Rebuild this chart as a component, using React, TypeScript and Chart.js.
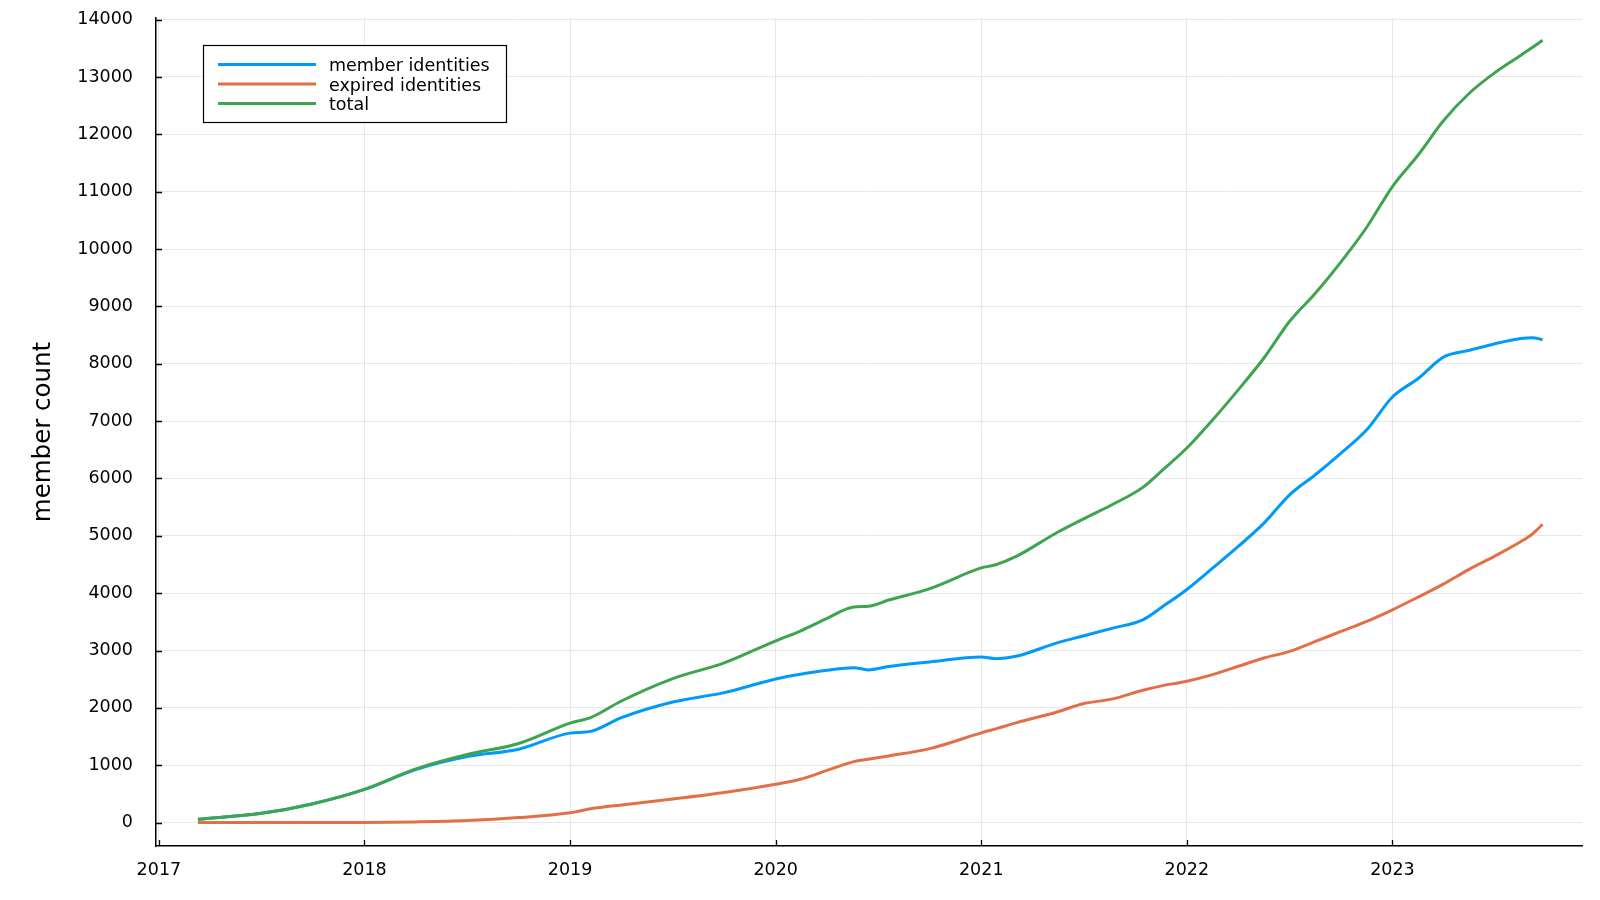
import React, { useEffect, useRef } from "react";
import { Chart, registerables } from "chart.js";

Chart.register(...registerables);

// ---- data ----
const years = [
  2017.19, 2017.5, 2017.75, 2018.0, 2018.25, 2018.5, 2018.75, 2019.0, 2019.1, 2019.25,
  2019.5, 2019.75, 2020.0, 2020.12, 2020.25, 2020.38, 2020.45, 2020.55, 2020.75, 2021.0,
  2021.07, 2021.17, 2021.365, 2021.5, 2021.64, 2021.786, 2021.883, 2022.0, 2022.125, 2022.25,
  2022.375, 2022.5, 2022.625, 2022.75, 2022.875, 2023.0, 2023.125, 2023.25, 2023.375, 2023.5,
  2023.625, 2023.68, 2023.73,
];

const memberIdentities = [
  60, 163, 330, 578, 925, 1150, 1280, 1560, 1590, 1830,
  2103, 2266, 2505, 2586, 2655, 2700, 2662, 2720, 2800, 2887,
  2858, 2899, 3130, 3258, 3391, 3536, 3768, 4065, 4436, 4814,
  5221, 5715, 6064, 6442, 6849, 7420, 7742, 8120, 8235, 8350,
  8440, 8455, 8420,
];

const expiredIdentities = [
  0, 0, 0, 2, 12, 35, 87, 172, 240, 308,
  410, 523, 668, 755, 910, 1063, 1104, 1162, 1290, 1565,
  1635, 1739, 1925, 2075, 2157, 2307, 2388, 2464, 2580, 2725,
  2870, 2986, 3159, 3333, 3507, 3710, 3932, 4163, 4420, 4650,
  4900, 5030, 5200,
];

const totalIdentities = [
  60, 163, 330, 580, 937, 1188, 1380, 1735, 1830, 2120,
  2510, 2785, 3170, 3340, 3560, 3760, 3770, 3880, 4080, 4440,
  4495, 4640, 5050, 5300, 5550, 5845, 6150, 6530, 7020, 7545,
  8100, 8740, 9230, 9777, 10380, 11090, 11640, 12245, 12720, 13080,
  13380, 13513, 13640,
];

const seriesLabels = ["member identities", "expired identities", "total"];
const seriesColors = ["#009AFA", "#E36F47", "#3EA44E"];
const xTickYears = [2017, 2018, 2019, 2020, 2021, 2022, 2023];
const yTickValues = [0, 1000, 2000, 3000, 4000, 5000, 6000, 7000, 8000, 9000, 10000, 11000, 12000, 13000, 14000];
const yAxisTitle = "member count";

const FONT = "'DejaVu Sans', sans-serif";
const FONT_SIZE = 17.5;

const inwardTicks = {
  id: "inwardTicks",
  afterDraw(chart: any) {
    const { ctx, chartArea, scales } = chart;
    const xs = scales.x;
    const ys = scales.y;
    ctx.save();
    ctx.strokeStyle = "#000";
    ctx.lineWidth = 1.3;
    ctx.beginPath();
    for (const v of yTickValues) {
      const py = Math.round(ys.getPixelForValue(v)) + 0.5;
      ctx.moveTo(chartArea.left, py);
      ctx.lineTo(chartArea.left + 6, py);
    }
    for (const v of xTickYears) {
      const px = Math.round(xs.getPixelForValue(v)) + 0.5;
      ctx.moveTo(px, chartArea.bottom);
      ctx.lineTo(px, chartArea.bottom - 6);
    }
    ctx.stroke();
    ctx.restore();
  },
};

const legendBox = {
  id: "legendBox",
  afterDraw(chart: any) {
    const { ctx } = chart;
    const left = 203.5;
    const top = 45.5;
    const w = 303;
    const h = 77;
    ctx.save();
    ctx.fillStyle = "#fff";
    ctx.fillRect(left, top, w, h);
    ctx.strokeStyle = "#000";
    ctx.lineWidth = 1.2;
    ctx.strokeRect(left, top, w, h);
    ctx.font = `${FONT_SIZE}px ${FONT}`;
    ctx.textBaseline = "alphabetic";
    ctx.textAlign = "left";
    chart.data.datasets.forEach((ds: any, i: number) => {
      const y = 64.5 + i * 19.5;
      ctx.strokeStyle = ds.borderColor;
      ctx.lineWidth = 3;
      ctx.beginPath();
      ctx.moveTo(218, y);
      ctx.lineTo(316, y);
      ctx.stroke();
      ctx.fillStyle = "#000";
      ctx.fillText(ds.label, 329, y + 6.5);
    });
    ctx.restore();
  },
};

export default function App() {
  const canvasRef = useRef<HTMLCanvasElement | null>(null);

  useEffect(() => {
    if (!canvasRef.current) return;
    const series = [memberIdentities, expiredIdentities, totalIdentities];
    const chart = new Chart(canvasRef.current, {
      type: "line",
      data: {
        datasets: series.map((vals, i) => ({
          label: seriesLabels[i],
          data: years.map((x, j) => ({ x, y: vals[j] })),
          borderColor: seriesColors[i],
          backgroundColor: seriesColors[i],
          borderWidth: 3,
          pointRadius: 0,
          fill: false,
          cubicInterpolationMode: "monotone" as const,
          order: 2 - i,
        })),
      },
      options: {
        responsive: false,
        animation: false,
        events: [],
        layout: { padding: { top: 18, right: 18, bottom: 0, left: 0 } },
        plugins: {
          legend: { display: false },
          tooltip: { enabled: false },
          title: { display: false },
        },
        scales: {
          x: {
            type: "linear",
            min: 2016.986,
            max: 2023.922,
            afterBuildTicks: (s: any) => {
              s.ticks = xTickYears.map((v) => ({ value: v }));
            },
            afterFit: (s: any) => {
              s.height = 54;
              s.paddingLeft = 0;
              s.paddingRight = 0;
            },
            ticks: {
              callback: (v: any) => String(v),
              font: { family: FONT, size: FONT_SIZE },
              color: "#000",
              padding: 14,
              maxRotation: 0,
              autoSkip: false,
            },
            grid: { color: "rgba(0,0,0,0.09)", lineWidth: 1, drawTicks: false },
            border: { display: true, color: "#000", width: 1.5 },
          },
          y: {
            type: "linear",
            min: -408,
            max: 14028,
            afterBuildTicks: (s: any) => {
              s.ticks = yTickValues.map((v) => ({ value: v }));
            },
            afterFit: (s: any) => {
              s.width = 156;
              s.paddingTop = 0;
              s.paddingBottom = 0;
            },
            ticks: {
              callback: (v: any) => String(v),
              font: { family: FONT, size: FONT_SIZE },
              color: "#000",
              padding: 23,
              autoSkip: false,
            },
            grid: { color: "rgba(0,0,0,0.09)", lineWidth: 1, drawTicks: false },
            border: { display: true, color: "#000", width: 1.5 },
            title: {
              display: true,
              text: yAxisTitle,
              color: "#000",
              font: { family: FONT, size: 24.5 },
              padding: { top: 29, bottom: 0 },
            },
          },
        },
      },
      plugins: [inwardTicks, legendBox],
    });
    return () => chart.destroy();
  }, []);

  return (
    <div style={{ position: "fixed", left: 0, top: 0, width: 1600, height: 900, background: "#fff" }}>
      <canvas ref={canvasRef} width={1600} height={900} style={{ display: "block" }} />
    </div>
  );
}
